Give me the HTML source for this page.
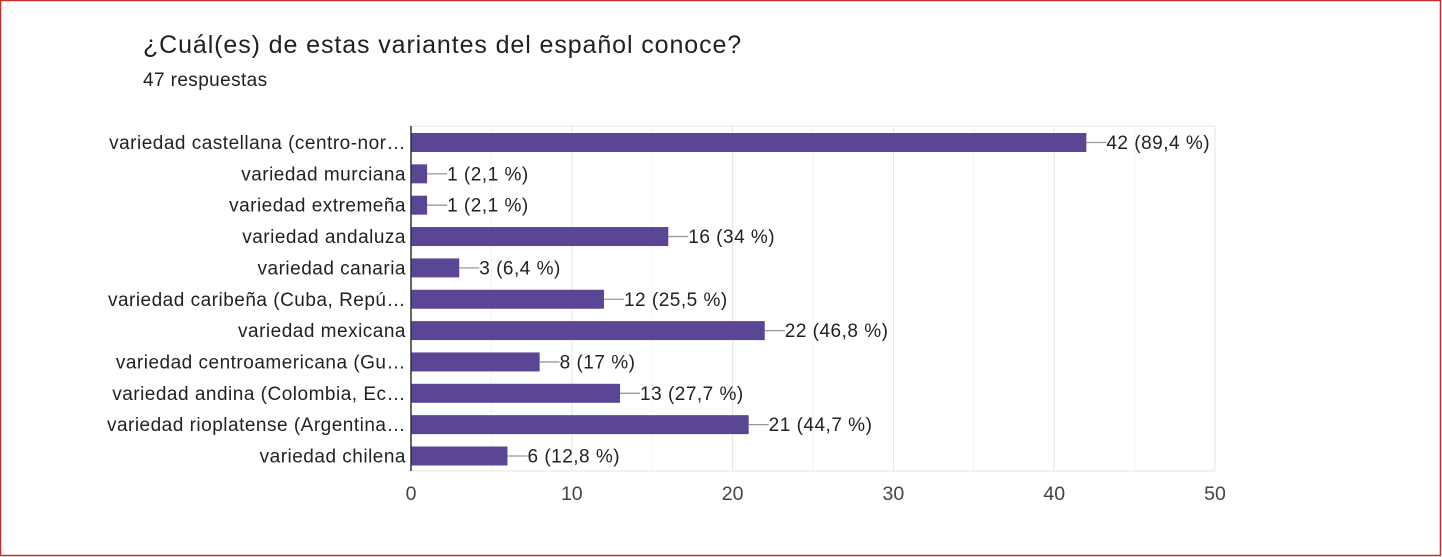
<!DOCTYPE html>
<html><head><meta charset="utf-8"><style>
html,body{margin:0;padding:0;background:#fff}
body{width:1442px;height:557px;overflow:hidden}
svg{display:block;font-family:"Liberation Sans",Arial,sans-serif}
</style></head><body>
<svg width="1442" height="557" viewBox="0 0 1442 557">
<rect x="0.5" y="0.5" width="1440" height="555" fill="#fff" stroke="#c0302f" stroke-width="1.5"/>
<text x="143" y="53" font-size="25" letter-spacing="0.9" fill="#202124">¿Cuál(es) de estas variantes del español conoce?</text>
<text x="143" y="86" font-size="19" letter-spacing="0.4" fill="#202124">47 respuestas</text>
<g stroke="#f3f3f3" stroke-width="1">
<line x1="491.4" y1="126" x2="491.4" y2="471"/><line x1="652.2" y1="126" x2="652.2" y2="471"/><line x1="813" y1="126" x2="813" y2="471"/><line x1="973.8" y1="126" x2="973.8" y2="471"/><line x1="1134.6" y1="126" x2="1134.6" y2="471"/>
</g>
<g stroke="#e6e6e6" stroke-width="1">
<line x1="571.8" y1="126" x2="571.8" y2="471"/><line x1="732.6" y1="126" x2="732.6" y2="471"/><line x1="893.4" y1="126" x2="893.4" y2="471"/><line x1="1054.2" y1="126" x2="1054.2" y2="471"/><line x1="1215" y1="126" x2="1215" y2="471"/>
<line x1="411" y1="126" x2="1215" y2="126"/><line x1="411" y1="471" x2="1215" y2="471"/>
</g>
<g id="bars" font-size="19" letter-spacing="0.5" fill="#222"></g>
<line x1="411" y1="126" x2="411" y2="471" stroke="#333" stroke-width="1.5"/>
<g font-size="19.5" fill="#444" text-anchor="middle">
<text x="411" y="500">0</text><text x="571.8" y="500">10</text><text x="732.6" y="500">20</text><text x="893.4" y="500">30</text><text x="1054.2" y="500">40</text><text x="1215" y="500">50</text>
</g>
</svg>
<script>
var d=[["variedad castellana (centro-nor…",42,"42 (89,4 %)"],["variedad murciana",1,"1 (2,1 %)"],["variedad extremeña",1,"1 (2,1 %)"],["variedad andaluza",16,"16 (34 %)"],["variedad canaria",3,"3 (6,4 %)"],["variedad caribeña (Cuba, Repú…",12,"12 (25,5 %)"],["variedad mexicana",22,"22 (46,8 %)"],["variedad centroamericana (Gu…",8,"8 (17 %)"],["variedad andina (Colombia, Ec…",13,"13 (27,7 %)"],["variedad rioplatense (Argentina…",21,"21 (44,7 %)"],["variedad chilena",6,"6 (12,8 %)"]];
var g=document.getElementById("bars"),h="";
d.forEach(function(r,i){var cy=142.5+i*31.35,w=r[1]*16.08,x2=411+w;
h+='<rect x="411" y="'+(cy-9.5)+'" width="'+w+'" height="19" fill="#5b4696"/>';
h+='<line x1="'+x2+'" y1="'+cy+'" x2="'+(x2+20)+'" y2="'+cy+'" stroke="#999" stroke-width="1.3"/>';
h+='<text x="'+(x2+20)+'" y="'+(cy+6.5)+'" fill="#222">'+r[2]+'</text>';
h+='<text x="406" y="'+(cy+6.5)+'" text-anchor="end" fill="#222">'+r[0]+'</text>';});
g.innerHTML=h;
</script>
</body></html>
